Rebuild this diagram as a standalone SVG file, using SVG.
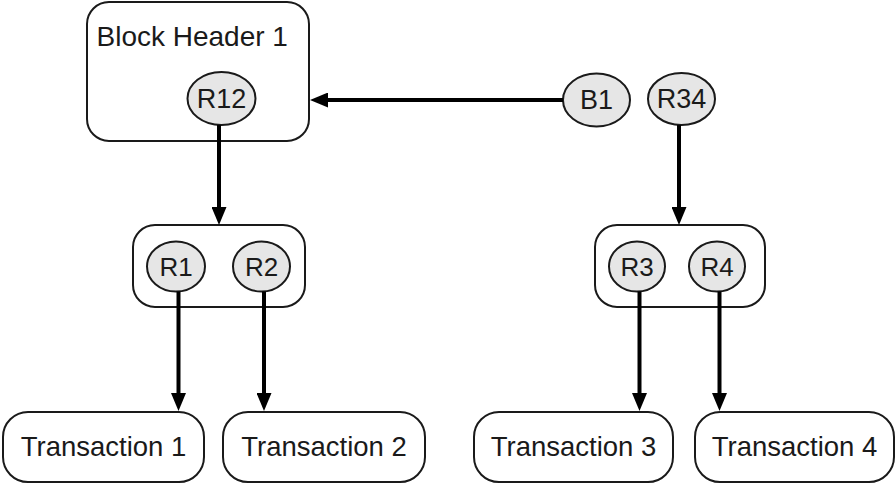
<svg xmlns="http://www.w3.org/2000/svg" width="896" height="485" viewBox="0 0 896 485">
  <style>
    .box { fill: #ffffff; stroke: #1a1a1a; stroke-width: 2; }
    .node { fill: #e6e6e6; stroke: #1a1a1a; stroke-width: 2; }
    .lbl { font-family: "Liberation Sans", Arial, sans-serif; fill: #1a1a1a; }
    .big { font-size: 28px; }
    .small { font-size: 26px; text-anchor: middle; }
    .top { font-size: 27px; }
    .tx { font-size: 27.5px; text-anchor: middle; }
    .edge { stroke: #000000; stroke-width: 4; fill: none; marker-end: url(#arrow); }
  </style>
  <defs>
    <marker id="arrow" markerUnits="userSpaceOnUse" markerWidth="19" markerHeight="15" refX="9" refY="7.5" orient="auto" viewBox="0 0 19 15">
      <path d="M0,0 L18,7.5 L0,15 Z" fill="#000000"/>
    </marker>
  </defs>
  <rect width="896" height="485" fill="#ffffff"/>

  <g id="block-header-1">
    <rect class="box" x="87" y="2" width="222" height="139" rx="22" ry="22"/>
    <text class="lbl big" x="96.5" y="46">Block Header 1</text>
  </g>
  <g id="r12">
    <ellipse class="node" cx="221.5" cy="98.5" rx="34" ry="26.5"/>
    <text class="lbl small top" x="221.5" y="108">R12</text>
  </g>
  <g id="b1">
    <ellipse class="node" cx="596.5" cy="100" rx="33.5" ry="26.5"/>
    <text class="lbl small top" x="596.5" y="109">B1</text>
  </g>
  <g id="r34">
    <ellipse class="node" cx="681.5" cy="99" rx="33.5" ry="26"/>
    <text class="lbl small top" x="681.5" y="108">R34</text>
  </g>

  <g id="group-r1-r2">
    <rect class="box" x="133" y="225" width="172" height="82" rx="22" ry="22"/>
  </g>
  <g id="r1">
    <ellipse class="node" cx="176" cy="266.5" rx="29" ry="25"/>
    <text class="lbl small" x="176" y="275.5">R1</text>
  </g>
  <g id="r2">
    <ellipse class="node" cx="261.5" cy="266.5" rx="28.5" ry="25"/>
    <text class="lbl small" x="261.5" y="275.5">R2</text>
  </g>

  <g id="group-r3-r4">
    <rect class="box" x="595" y="225" width="170" height="82" rx="22" ry="22"/>
  </g>
  <g id="r3">
    <ellipse class="node" cx="637" cy="266.5" rx="28" ry="25"/>
    <text class="lbl small" x="637" y="275.5">R3</text>
  </g>
  <g id="r4">
    <ellipse class="node" cx="717" cy="266.5" rx="28" ry="25"/>
    <text class="lbl small" x="717" y="275.5">R4</text>
  </g>

  <g id="transaction-1">
    <rect class="box" x="3" y="412" width="201" height="70" rx="25" ry="25"/>
    <text class="lbl tx" x="103.5" y="456">Transaction 1</text>
  </g>
  <g id="transaction-2">
    <rect class="box" x="223" y="412" width="202" height="70" rx="25" ry="25"/>
    <text class="lbl tx" x="324" y="456">Transaction 2</text>
  </g>
  <g id="transaction-3">
    <rect class="box" x="474" y="412" width="199" height="70" rx="25" ry="25"/>
    <text class="lbl tx" x="573.5" y="456">Transaction 3</text>
  </g>
  <g id="transaction-4">
    <rect class="box" x="695" y="412" width="199" height="70" rx="25" ry="25"/>
    <text class="lbl tx" x="794.5" y="456">Transaction 4</text>
  </g>

  <g id="connectors">
    <line class="edge" x1="563" y1="100" x2="319" y2="100"/>
    <line class="edge" x1="219" y1="125" x2="219" y2="216"/>
    <line class="edge" x1="679" y1="125" x2="679" y2="216"/>
    <line class="edge" x1="178.5" y1="291.5" x2="178.5" y2="402"/>
    <line class="edge" x1="264" y1="291.5" x2="264" y2="402"/>
    <line class="edge" x1="639.5" y1="291.5" x2="639.5" y2="402"/>
    <line class="edge" x1="719.5" y1="291.5" x2="719.5" y2="402"/>
  </g>
</svg>
